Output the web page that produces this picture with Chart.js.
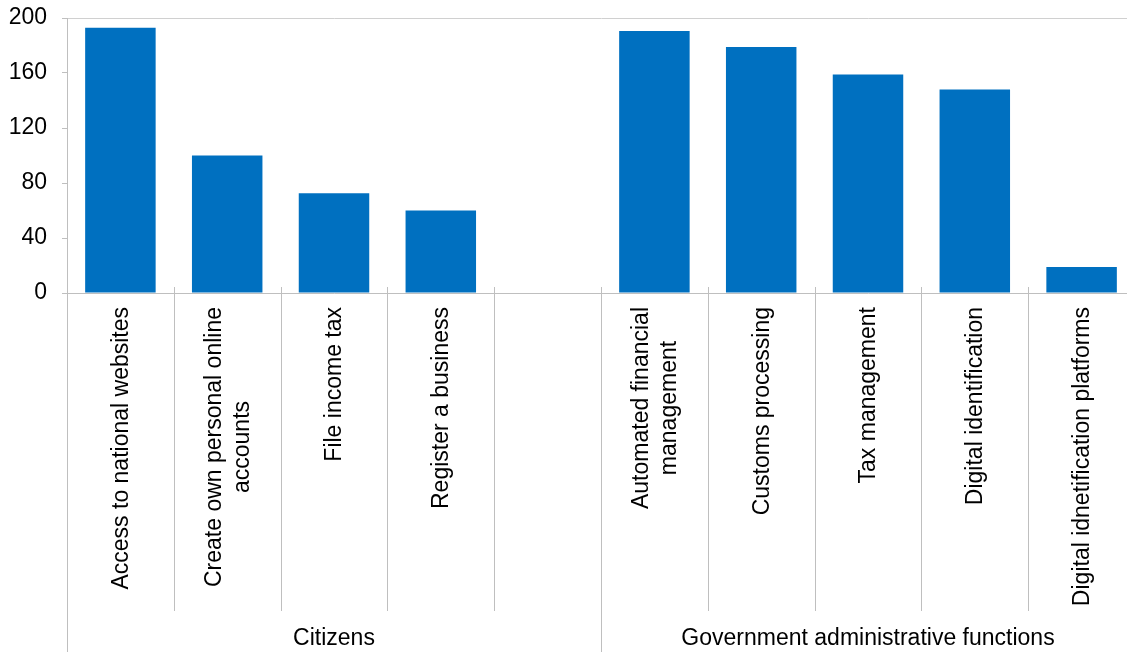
<!DOCTYPE html>
<html>
<head>
<meta charset="utf-8">
<script src="https://cdn.jsdelivr.net/npm/chart.js@4/dist/chart.umd.min.js"></script>
<style>
  html, body { margin: 0; padding: 0; background: #fff; overflow: hidden; }
  #wrap { width: 1127px; height: 653px; overflow: hidden; }
</style>
</head>
<body>
<div id="wrap"><canvas id="c" width="1135" height="653"></canvas></div>
<script>
const categories = [
  ["Access to national websites"],
  ["Create own personal online", "accounts"],
  ["File income tax"],
  ["Register a business"],
  [""],
  ["Automated financial", "management"],
  ["Customs processing"],
  ["Tax management"],
  ["Digital identification"],
  ["Digital idnetification platforms"]
];
const values = [193, 100, 72.5, 60, null, 190.5, 179, 159, 148, 19];
const yTicks = [0, 40, 80, 120, 160, 200];
const groupLabels = ["Citizens", "Government administrative functions"];
const groupStarts = [0, 5];   // first category index of each group
const groupEnds = [4, 9];     // last category index of each group

const FONT = '"Liberation Sans", Arial, sans-serif';
const GREY = '#bfbfbf';

const decor = {
  id: 'decor',
  afterDraw(chart) {
    const ctx = chart.ctx;
    const xs = chart.scales.x;
    const area = chart.chartArea;
    const half = (xs.getPixelForValue(1) - xs.getPixelForValue(0)) / 2;
    const bottom = chart.height;
    ctx.save();
    ctx.lineWidth = 1;
    ctx.strokeStyle = GREY;
    const groupEdges = new Set(groupStarts);
    for (let i = 1; i < categories.length; i++) {
      const x = Math.round(xs.getPixelForValue(i) - half) + 0.5;
      ctx.beginPath();
      ctx.moveTo(x, area.bottom - 6);
      ctx.lineTo(x, groupEdges.has(i) ? bottom - 1 : 611);
      ctx.stroke();
    }
    const x0 = Math.round(xs.getPixelForValue(0) - half) + 0.5;
    ctx.beginPath();
    ctx.moveTo(x0, area.bottom);
    ctx.lineTo(x0, bottom - 1);
    ctx.stroke();

    ctx.fillStyle = '#000';
    ctx.font = '23px ' + FONT;
    const lineH = 28;
    categories.forEach((lines, i) => {
      const cx = xs.getPixelForValue(i);
      const blockW = Math.max(...lines.map(l => ctx.measureText(l).width));
      ctx.save();
      ctx.translate(cx, 307);
      ctx.rotate(-Math.PI / 2);
      ctx.textAlign = 'center';
      ctx.textBaseline = 'middle';
      lines.forEach((l, j) => {
        const off = (j - (lines.length - 1) / 2) * lineH;
        ctx.fillText(l, -blockW / 2, off + 1);
      });
      ctx.restore();
    });

    ctx.textAlign = 'center';
    ctx.textBaseline = 'middle';
    groupLabels.forEach((g, k) => {
      const left = xs.getPixelForValue(groupStarts[k]) - half;
      const right = xs.getPixelForValue(groupEnds[k]) + half;
      ctx.fillText(g, (left + right) / 2, 639);
    });
    ctx.restore();
  }
};

function noPad(s) {
  s.paddingTop = 0; s.paddingBottom = 0; s.paddingLeft = 0; s.paddingRight = 0;
}

new Chart(document.getElementById('c'), {
  type: 'bar',
  data: {
    labels: categories.map(c => c.join(' ')),
    datasets: [{
      data: values,
      backgroundColor: '#0070C0',
      borderWidth: 0,
      categoryPercentage: 1,
      barPercentage: 0.66
    }]
  },
  options: {
    responsive: false,
    animation: false,
    devicePixelRatio: 1,
    layout: { padding: { top: 18, right: 0, left: 0, bottom: 0 } },
    plugins: { legend: { display: false }, tooltip: { enabled: false } },
    scales: {
      x: {
        type: 'category',
        offset: true,
        ticks: { display: false },
        grid: { display: false },
        border: { display: true, color: GREY, width: 1 },
        afterFit(s) { s.height = 360; noPad(s); }
      },
      y: {
        min: 0,
        max: 200,
        afterBuildTicks(s) { s.ticks = yTicks.map(v => ({ value: v })); },
        ticks: {
          font: { size: 23, family: FONT },
          color: '#000',
          padding: 15
        },
        grid: {
          drawOnChartArea: true,
          color: ctx => (ctx.tick && ctx.tick.value === 200) ? '#d0d0d0' : 'rgba(0,0,0,0)',
          tickColor: GREY,
          tickLength: 5
        },
        border: { display: true, color: GREY, width: 1 },
        afterFit(s) { s.width = 67; noPad(s); }
      }
    }
  },
  plugins: [decor]
});
</script>
</body>
</html>
